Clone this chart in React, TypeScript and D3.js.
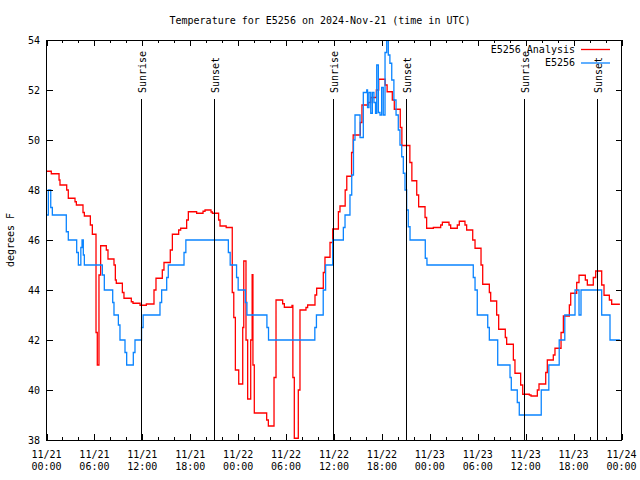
import React from "react";
import * as d3 from "d3";

const W = 640, H = 480;
const M = { left: 46.5, right: 621.5, top: 40, bottom: 440 };

const titleText = "Temperature for E5256 on 2024-Nov-21 (time in UTC)";
const yLabel = "degrees F";
const yTicks = [38, 40, 42, 44, 46, 48, 50, 52, 54];
const xMajorHours = [0, 6, 12, 18, 24, 30, 36, 42, 48, 54, 60, 66, 72];
const xTickDates = ["11/21", "11/21", "11/21", "11/21", "11/22", "11/22", "11/22", "11/22", "11/23", "11/23", "11/23", "11/23", "11/24"];
const xTickTimes = ["00:00", "06:00", "12:00", "18:00", "00:00", "06:00", "12:00", "18:00", "00:00", "06:00", "12:00", "18:00", "00:00"];
const xMinorHours = d3.range(0, 73, 2);

const sunHours = [11.8, 21.0, 35.83, 45.02, 59.84, 68.98];
const sunLabels = ["Sunrise", "Sunset", "Sunrise", "Sunset", "Sunrise", "Sunset"];

const seriesNames = ["E5256 Analysis", "E5256"];
const seriesColors = ["#ff0000", "#0a84ff"];

// Analysis (red) series: hours since 11/21 00:00 UTC, degrees F
const redHours = [
  0, 0.6, 1.57, 1.69, 2.53, 2.73, 3.57, 3.74, 4.57, 4.74, 5.49, 5.74, 6.2, 6.36, 6.57, 6.78,
  7.49, 7.7, 8.45, 8.62, 8.74, 9.5, 9.7, 10.62, 10.83, 11.71, 12.5, 13.46, 13.71, 14.5, 14.71,
  15.5, 15.76, 16.55, 16.8, 17.55, 17.76, 18.8, 19.6, 19.85, 20.6, 20.77, 21.55, 21.73, 22.5,
  23.26, 23.45, 23.65, 24.07, 24.57, 24.7, 24.98, 25.19, 25.57, 25.75, 25.85, 26.02, 27.57,
  27.78, 28.49, 28.74, 29.57, 29.78, 30.74, 30.85, 31.03, 31.53, 31.74, 32.49, 32.7, 33.62,
  33.83, 34.66, 34.87, 35.5, 35.84, 36.55, 36.75, 37.4, 37.6, 38.2, 38.4, 39.3, 39.5, 40.3,
  40.6, 41.3, 41.6, 42.4, 42.65, 43.3, 43.55, 44.3, 44.5, 45.5, 45.75, 46.36, 46.6, 47.4, 47.6,
  48.44, 49.36, 49.57, 50.4, 50.61, 51.44, 51.69, 52.4, 52.61, 53.37, 53.66, 54.41, 54.62,
  55.45, 55.62, 56.37, 56.62, 57.45, 57.62, 58.46, 58.66, 59.37, 59.63, 60.46, 60.67, 61.46,
  61.67, 62.51, 62.71, 63.46, 63.67, 64.43, 64.72, 65.47, 65.64, 66.39, 66.68, 67.47, 67.72,
  68.47, 68.77, 69.52, 69.81, 70.48, 70.77, 71.8,
];
const redTemps = [
  48.75, 48.65, 48.4, 48.2, 48.0, 47.67, 47.53, 47.4, 47.1, 46.96, 46.6, 46.23, 42.3, 41.0, 44.6, 45.77,
  45.6, 45.24, 45.0, 44.4, 44.27, 43.9, 43.67, 43.53, 43.47, 43.39, 43.44, 44.0, 44.47, 44.8, 45.1,
  45.6, 46.23, 46.4, 46.47, 46.8, 47.13, 47.07, 47.15, 47.2, 47.12, 47.07, 46.8, 46.56, 46.5,
  43.9, 42.9, 40.8, 40.24, 42.5, 45.16, 42.0, 39.64, 42.0, 44.61, 41.0, 39.08, 38.8,
  38.56, 40.5, 43.6, 43.45, 43.31, 43.38, 40.5, 38.07, 40.0, 43.2, 43.3, 43.4, 43.8,
  44.07, 44.7, 45.31, 45.9, 46.44, 47.13, 47.36, 48.0, 48.55, 49.5, 50.2, 50.7, 51.4, 51.5,
  51.7, 52.0, 52.43, 52.2, 51.93, 51.6, 51.23, 50.5, 49.78, 49.1, 48.37, 47.8, 47.33, 46.9, 46.47,
  46.5, 46.6, 46.71, 46.6, 46.47, 46.6, 46.75, 46.6, 46.4, 46.0, 45.67, 45.0, 44.23,
  43.9, 43.56, 43.0, 42.43, 42.1, 41.83, 41.2, 40.67, 40.2, 39.83, 39.8, 39.76, 40.0,
  40.24, 40.7, 41.2, 41.4, 41.67, 42.3, 42.96, 43.4, 43.87, 44.3, 44.59, 44.4, 44.2,
  44.5, 44.76, 44.2, 43.79, 43.6, 43.43, 43.43,
];

// Observed (blue) series
const blueHours = [
  0, 0.23, 0.53, 0.73, 2.48, 2.73, 3.78, 3.99, 4.3, 4.45, 4.61, 4.74, 6.99, 7.24, 8.29, 8.45,
  9.0, 9.2, 9.83, 10.04, 10.87, 11.08, 11.9, 12.1, 14.21, 14.42, 15.05, 15.25, 17.22, 17.45,
  22.77, 23.0, 23.8, 24.0, 24.9, 25.1, 27.6, 27.8, 33.6, 33.8, 34.65, 34.95, 35.84, 37.17,
  37.38, 38.0, 38.22, 38.44, 38.63, 39.26, 39.67, 40.1, 40.2, 40.38, 40.6, 40.8, 41.0, 41.2,
  41.35, 41.55, 41.76, 41.97, 42.17, 42.39, 42.6, 42.8, 43.0, 43.23, 43.5, 43.77, 44.05, 44.26,
  44.48, 44.68, 44.89, 45.1, 45.3, 45.52, 47.43, 47.64, 53.44, 53.66, 53.94, 55.25, 55.45,
  56.5, 58.04, 58.2, 58.95, 59.2, 61.95, 62.9, 64.2, 64.9, 66.18, 66.68, 66.93, 69.52, 70.56, 71.8,
];
const blueTemps = [
  47.0, 48.0, 47.3, 47.0, 46.33, 46.0, 45.5, 45.0, 45.7, 46.0, 45.4, 45.0, 44.6, 44.0, 43.5, 43.0,
  42.6, 42.0, 41.5, 41.0, 41.5, 42.0, 42.5, 43.0, 43.5, 44.0, 44.5, 45.0, 45.5, 46.0,
  45.5, 45.0, 44.5, 44.0, 43.5, 43.0, 42.5, 42.0, 42.5, 43.0, 44.0, 45.0, 46.0, 46.5,
  47.0, 47.8, 48.6, 50.0, 51.0, 50.1, 51.9, 52.0, 51.3, 51.9, 51.07, 51.9, 51.5, 51.07,
  53.0, 51.1, 51.0, 52.1, 51.0, 53.5, 54.0, 53.4, 53.07, 52.4, 51.6, 51.0, 50.4, 49.8,
  49.33, 48.67, 48.0, 47.2, 46.53, 46.0, 45.27, 45.0, 44.5, 44.0, 43.0, 42.5, 42.0,
  41.0, 40.5, 40.0, 39.5, 39.0, 40.0, 41.0, 42.0, 43.0, 44.0, 43.0, 44.0, 43.0, 42.0, 42.0,
];

const FONT = "'DejaVu Sans Mono', monospace";

export default function App() {
  const x = d3.scaleLinear().domain([0, 72]).range([M.left, M.right]);
  const y = d3.scaleLinear().domain([38, 54]).range([M.bottom, M.top]);

  const line = d3
    .line<[number, number]>()
    .x((d) => x(d[0]))
    .y((d) => y(d[1]))
    .curve(d3.curveStepAfter);

  const redData: [number, number][] = redHours.map((h, i) => [h, redTemps[i]]);
  const blueData: [number, number][] = blueHours.map((h, i) => [h, blueTemps[i]]);

  return (
    <svg
      width={W}
      height={H}
      style={{ position: "fixed", left: 0, top: 0, background: "#fff" }}
      fontFamily={FONT}
      fontSize={10}
    >
      <rect x={0} y={0} width={W} height={H} fill="#fff" />
      <text x={320} y={24} textAnchor="middle">{titleText}</text>
      <text transform={`translate(14,240) rotate(-90)`} textAnchor="middle">{yLabel}</text>

      <g clipPath="url(#clip)">
        <defs>
          <clipPath id="clip">
            <rect x={M.left} y={M.top} width={M.right - M.left} height={M.bottom - M.top} />
          </clipPath>
        </defs>
        <path d={line(redData) || ""} fill="none" stroke={seriesColors[0]} strokeWidth={1.3} />
        <path d={line(blueData) || ""} fill="none" stroke={seriesColors[1]} strokeWidth={1.3} />
      </g>

      {sunHours.map((h, i) => (
        <g key={"sun" + i}>
          <line x1={Math.round(x(h)) + 0.5} x2={Math.round(x(h)) + 0.5} y1={99} y2={M.bottom} stroke="#000" strokeWidth={1} shapeRendering="crispEdges" />
          <text transform={`translate(${Math.round(x(h)) + 4.5},93) rotate(-90)`} textAnchor="start">{sunLabels[i]}</text>
        </g>
      ))}

      <g shapeRendering="crispEdges" stroke="#000">
        {yTicks.map((t) => (
          <g key={"yt" + t}>
            <line x1={M.left} x2={M.left + 6} y1={Math.round(y(t)) + 0.5} y2={Math.round(y(t)) + 0.5} />
            <line x1={M.right - 6} x2={M.right} y1={Math.round(y(t)) + 0.5} y2={Math.round(y(t)) + 0.5} />
          </g>
        ))}
        {xMinorHours.map((h) => {
          const major = h % 6 === 0;
          const len = major ? 6 : 3;
          const xx = Math.round(x(h)) + 0.5;
          return (
            <g key={"xt" + h}>
              <line x1={xx} x2={xx} y1={M.bottom} y2={M.bottom - len} />
              <line x1={xx} x2={xx} y1={M.top} y2={M.top + len} />
            </g>
          );
        })}
        <rect x={M.left} y={M.top} width={M.right - M.left} height={M.bottom - M.top} fill="none" />
      </g>

      {yTicks.map((t) => (
        <text key={"yl" + t} x={40} y={y(t) + 3.6} textAnchor="end">{t}</text>
      ))}
      {xMajorHours.map((h, i) => (
        <g key={"xl" + h}>
          <text x={x(h)} y={458} textAnchor="middle">{xTickDates[i]}</text>
          <text x={x(h)} y={470} textAnchor="middle">{xTickTimes[i]}</text>
        </g>
      ))}

      {seriesNames.map((n, i) => (
        <g key={"lg" + i}>
          <text x={575} y={52.5 + i * 13.5} textAnchor="end">{n}</text>
          <line x1={581} x2={610} y1={49.5 + i * 13.5} y2={49.5 + i * 13.5} stroke={seriesColors[i]} strokeWidth={1.3} />
        </g>
      ))}
    </svg>
  );
}
